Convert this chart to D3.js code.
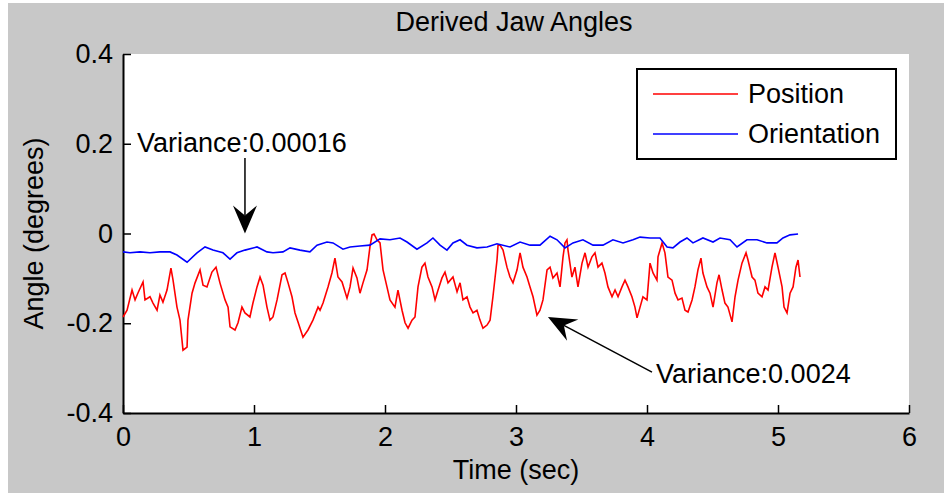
<!DOCTYPE html>
<html>
<head>
<meta charset="utf-8">
<script src="https://cdn.jsdelivr.net/npm/d3@7/dist/d3.min.js"></script>
<style>
  html, body { margin: 0; padding: 0; background: #ffffff; }
  svg { display: block; }
  text { font-family: Arial, "Liberation Sans", Helvetica, sans-serif; fill: #000; }
</style>
</head>
<body>
<svg id="chart" width="944" height="493"></svg>
<script>
// Jaw angle traces (seconds, degrees)
const posTime = [0.000,0.031,0.069,0.092,0.115,0.153,0.168,0.206,0.229,0.260,0.282,0.305,0.336,0.366,0.382,0.412,0.435,0.458,0.489,0.496,0.527,0.550,0.588,0.611,0.641,0.679,0.710,0.740,0.779,0.802,0.817,0.855,0.878,0.908,0.931,0.969,0.992,1.023,1.046,1.069,1.099,1.122,1.145,1.176,1.214,1.237,1.260,1.290,1.313,1.336,1.374,1.412,1.450,1.489,1.504,1.527,1.565,1.595,1.618,1.641,1.672,1.710,1.733,1.756,1.786,1.809,1.832,1.863,1.885,1.901,1.916,1.939,1.962,1.985,2.015,2.038,2.076,2.099,2.130,2.153,2.176,2.206,2.229,2.252,2.282,2.305,2.328,2.359,2.382,2.405,2.435,2.458,2.481,2.519,2.550,2.573,2.595,2.626,2.649,2.672,2.702,2.725,2.748,2.779,2.802,2.824,2.855,2.863,2.878,2.901,2.931,2.954,2.977,3.008,3.031,3.053,3.084,3.107,3.130,3.160,3.183,3.206,3.237,3.260,3.282,3.313,3.336,3.359,3.374,3.389,3.397,3.427,3.450,3.473,3.504,3.527,3.550,3.580,3.603,3.626,3.656,3.679,3.702,3.733,3.756,3.779,3.809,3.832,3.855,3.885,3.908,3.924,3.947,3.969,4.000,4.023,4.046,4.076,4.084,4.115,4.137,4.160,4.191,4.214,4.237,4.267,4.290,4.313,4.344,4.366,4.389,4.412,4.427,4.458,4.481,4.504,4.534,4.550,4.573,4.595,4.618,4.649,4.672,4.695,4.725,4.756,4.771,4.802,4.824,4.847,4.878,4.901,4.924,4.954,4.977,5.000,5.031,5.046,5.069,5.092,5.115,5.137,5.153,5.168];
const posAngle = [-0.186,-0.171,-0.126,-0.148,-0.132,-0.108,-0.148,-0.141,-0.155,-0.171,-0.137,-0.153,-0.126,-0.077,-0.104,-0.164,-0.193,-0.260,-0.253,-0.193,-0.133,-0.110,-0.081,-0.115,-0.119,-0.086,-0.075,-0.110,-0.148,-0.164,-0.208,-0.215,-0.199,-0.164,-0.177,-0.186,-0.155,-0.119,-0.097,-0.115,-0.164,-0.193,-0.186,-0.148,-0.092,-0.088,-0.110,-0.141,-0.177,-0.197,-0.231,-0.215,-0.193,-0.164,-0.171,-0.155,-0.119,-0.088,-0.055,-0.097,-0.108,-0.144,-0.119,-0.077,-0.099,-0.133,-0.110,-0.081,-0.030,-0.003,-0.001,-0.014,-0.021,-0.081,-0.119,-0.148,-0.164,-0.126,-0.171,-0.199,-0.211,-0.193,-0.186,-0.119,-0.075,-0.066,-0.097,-0.119,-0.148,-0.126,-0.099,-0.086,-0.110,-0.097,-0.130,-0.110,-0.148,-0.141,-0.164,-0.177,-0.171,-0.193,-0.211,-0.204,-0.193,-0.141,-0.059,-0.026,-0.026,-0.037,-0.075,-0.097,-0.110,-0.081,-0.043,-0.075,-0.097,-0.119,-0.141,-0.182,-0.171,-0.148,-0.081,-0.075,-0.099,-0.088,-0.119,-0.052,-0.021,-0.014,-0.037,-0.097,-0.075,-0.119,-0.066,-0.043,-0.075,-0.052,-0.043,-0.075,-0.066,-0.088,-0.119,-0.141,-0.126,-0.141,-0.119,-0.104,-0.119,-0.141,-0.164,-0.188,-0.164,-0.141,-0.148,-0.066,-0.088,-0.104,-0.052,-0.021,-0.043,-0.097,-0.104,-0.133,-0.148,-0.144,-0.171,-0.175,-0.148,-0.119,-0.081,-0.055,-0.088,-0.119,-0.133,-0.164,-0.110,-0.092,-0.126,-0.155,-0.164,-0.197,-0.141,-0.104,-0.066,-0.043,-0.059,-0.097,-0.104,-0.133,-0.141,-0.119,-0.126,-0.075,-0.043,-0.075,-0.119,-0.164,-0.177,-0.133,-0.119,-0.075,-0.059,-0.097];

const oriTime = [0.000,0.053,0.130,0.206,0.282,0.359,0.412,0.489,0.565,0.626,0.687,0.763,0.817,0.870,0.931,1.023,1.099,1.145,1.221,1.275,1.351,1.427,1.481,1.557,1.603,1.679,1.733,1.809,1.885,1.962,2.038,2.115,2.168,2.244,2.321,2.366,2.420,2.473,2.519,2.573,2.626,2.702,2.779,2.855,2.954,3.031,3.107,3.183,3.260,3.313,3.374,3.435,3.511,3.588,3.664,3.740,3.817,3.893,3.947,4.023,4.099,4.153,4.198,4.252,4.305,4.351,4.427,4.504,4.557,4.634,4.687,4.763,4.840,4.916,4.992,5.038,5.092,5.153];
const oriAngle = [-0.041,-0.043,-0.041,-0.043,-0.041,-0.041,-0.048,-0.064,-0.043,-0.030,-0.037,-0.043,-0.057,-0.043,-0.037,-0.030,-0.041,-0.043,-0.041,-0.032,-0.037,-0.041,-0.026,-0.019,-0.021,-0.035,-0.030,-0.028,-0.026,-0.012,-0.014,-0.010,-0.019,-0.035,-0.021,-0.010,-0.026,-0.037,-0.021,-0.014,-0.026,-0.032,-0.030,-0.023,-0.030,-0.019,-0.026,-0.026,-0.006,-0.014,-0.032,-0.021,-0.014,-0.026,-0.026,-0.014,-0.021,-0.014,-0.008,-0.010,-0.010,-0.030,-0.032,-0.019,-0.010,-0.021,-0.010,-0.019,-0.010,-0.014,-0.030,-0.014,-0.014,-0.021,-0.021,-0.010,-0.003,-0.001];

const xTicks = [0, 1, 2, 3, 4, 5, 6];
const yTicks = [-0.4, -0.2, 0, 0.2, 0.4];
const yTickLabels = ["-0.4", "-0.2", "0", "0.2", "0.4"];

const seriesNames = ["Position", "Orientation"];
const seriesColors = ["#ff0000", "#0000ff"];

// Variance callouts: label text, label anchor and arrow tail/tip in data units
const notes = [
  { text: "Variance:0.00016", labelT: 0.107, labelV: 0.182, tailT: 0.931, tailV: 0.168, tipT: 0.931, tipV: 0.0 },
  { text: "Variance:0.0024",  labelT: 4.069, labelV: -0.333, tailT: 4.038, tailV: -0.309, tipT: 3.244, tipV: -0.186 }
];

const svg = d3.select("#chart");
const W = 944, H = 493;

// Figure background
svg.append("rect").attr("x", 0).attr("y", 0).attr("width", W).attr("height", H).attr("fill", "#ffffff");
svg.append("rect").attr("x", 8).attr("y", 3).attr("width", W - 8).attr("height", H - 3).attr("fill", "#c8c8c8");

const x = d3.scaleLinear().domain([0, 6]).range([123, 909]);
const y = d3.scaleLinear().domain([-0.4, 0.4]).range([413, 54]);

// Plot area
svg.append("rect")
  .attr("x", x(0)).attr("y", y(0.4))
  .attr("width", x(6) - x(0)).attr("height", y(-0.4) - y(0.4))
  .attr("fill", "#ffffff");

const font = 27;

// Axes (ticks point inward)
const gx = svg.append("g").attr("transform", `translate(0,${y(-0.4)})`)
  .call(d3.axisBottom(x).tickValues(xTicks).tickFormat(d3.format("d"))
    .tickSizeInner(-8).tickSizeOuter(0).tickPadding(14));
const gy = svg.append("g").attr("transform", `translate(${x(0)},0)`)
  .call(d3.axisLeft(y).tickValues(yTicks).tickFormat((d, i) => yTickLabels[i])
    .tickSizeInner(-8).tickSizeOuter(0).tickPadding(10));

[gx, gy].forEach(g => {
  g.select(".domain").attr("stroke", "#000").attr("stroke-width", 2);
  g.selectAll(".tick line").attr("stroke", "#000").attr("stroke-width", 1.5);
  g.selectAll(".tick text").attr("font-size", font).attr("font-family", "Arial, 'Liberation Sans', sans-serif").attr("fill", "#000");
});

// Traces
const line = d3.line().x(d => x(d[0])).y(d => y(d[1]));
const posData = posTime.map((t, i) => [t, posAngle[i]]);
const oriData = oriTime.map((t, i) => [t, oriAngle[i]]);

svg.append("path").datum(posData).attr("d", line)
  .attr("fill", "none").attr("stroke", seriesColors[0]).attr("stroke-width", 1.6).attr("stroke-linejoin", "miter");
svg.append("path").datum(oriData).attr("d", line)
  .attr("fill", "none").attr("stroke", seriesColors[1]).attr("stroke-width", 1.6).attr("stroke-linejoin", "miter");

// Title and axis labels
svg.append("text").attr("x", 514).attr("y", 31).attr("text-anchor", "middle")
  .attr("font-size", font).text("Derived Jaw Angles");
svg.append("text").attr("x", (x(0) + x(6)) / 2).attr("y", 479).attr("text-anchor", "middle")
  .attr("font-size", font).text("Time (sec)");
svg.append("text").attr("transform", `translate(43,${(y(-0.4) + y(0.4)) / 2}) rotate(-90)`)
  .attr("text-anchor", "middle").attr("font-size", font).text("Angle (degrees)");

// Callouts
notes.forEach(n => {
  const x0 = x(n.tailT), y0 = y(n.tailV), x1 = x(n.tipT), y1 = y(n.tipV);
  const ang = Math.atan2(y1 - y0, x1 - x0);
  const ux = Math.cos(ang), uy = Math.sin(ang), px = -uy, py = ux;
  const L = 28, Wd = 12, notch = 18;
  svg.append("line")
    .attr("x1", x0).attr("y1", y0)
    .attr("x2", x1 - ux * notch).attr("y2", y1 - uy * notch)
    .attr("stroke", "#000").attr("stroke-width", 1.5);
  const head = [
    [x1, y1],
    [x1 - ux * L + px * Wd, y1 - uy * L + py * Wd],
    [x1 - ux * notch, y1 - uy * notch],
    [x1 - ux * L - px * Wd, y1 - uy * L - py * Wd]
  ];
  svg.append("path").attr("d", "M" + head.map(p => p.join(",")).join("L") + "Z").attr("fill", "#000");
  svg.append("text").attr("x", x(n.labelT)).attr("y", y(n.labelV))
    .attr("font-size", font).text(n.text);
});

// Legend
const lg = svg.append("g");
lg.append("rect").attr("x", 637).attr("y", 69).attr("width", 259).attr("height", 90)
  .attr("fill", "#ffffff").attr("stroke", "#000").attr("stroke-width", 2);
seriesNames.forEach((name, i) => {
  const cy = 94 + i * 40;
  lg.append("line").attr("x1", 653).attr("x2", 738).attr("y1", cy).attr("y2", cy)
    .attr("stroke", seriesColors[i]).attr("stroke-width", 1.6);
  lg.append("text").attr("x", 748).attr("y", cy).attr("dy", "0.35em")
    .attr("font-size", font).text(name);
});
</script>
</body>
</html>
